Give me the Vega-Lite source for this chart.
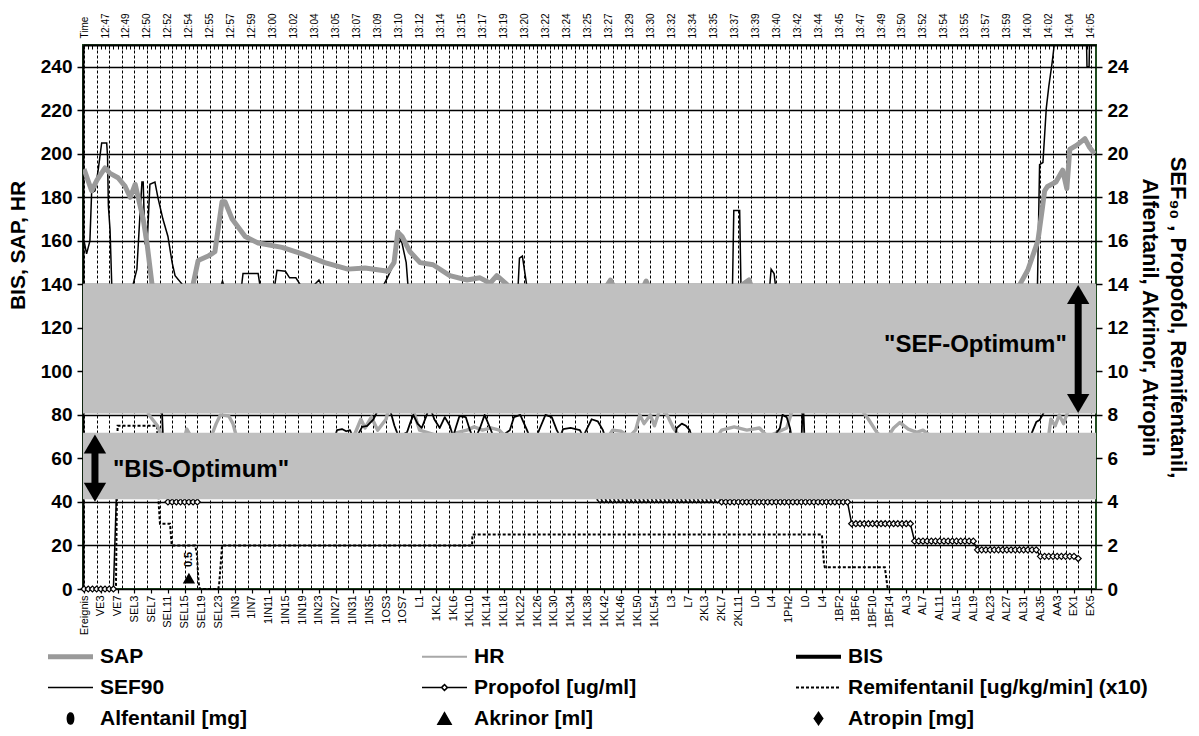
{
"$schema": "https://vega.github.io/schema/vega-lite/v6.json",
"width": 1013, "height": 544,
"autosize": {"type": "none"},
"padding": {"left": 83, "top": 45, "right": 103, "bottom": 147},
"background": "white",
"config": {
  "view": {"stroke": "#1e4a1e", "strokeWidth": 2},
  "font": "Liberation Sans",
  "axis": {"labelFont": "Liberation Sans", "titleFont": "Liberation Sans", "labelColor": "black", "titleColor": "black", "domainColor": "black", "tickColor": "black"},
  "text": {"font": "Liberation Sans"}
},
"datasets": {
  "lines": [
    {"s":"SAP","i":0,"v":193},{"s":"SAP","i":1.8,"v":183},{"s":"SAP","i":3.1,"v":188},{"s":"SAP","i":5,"v":193.5},{"s":"SAP","i":6.2,"v":191},{"s":"SAP","i":8.1,"v":189},{"s":"SAP","i":9.8,"v":185},{"s":"SAP","i":11,"v":180},{"s":"SAP","i":12.2,"v":186},{"s":"SAP","i":12.9,"v":180},{"s":"SAP","i":14.1,"v":170},{"s":"SAP","i":15,"v":159},{"s":"SAP","i":16.2,"v":140},{"s":"SAP","i":17.5,"v":125},{"s":"SAP","i":19.5,"v":108},{"s":"SAP","i":22,"v":100},{"s":"SAP","i":24,"v":112},{"s":"SAP","i":25.5,"v":132},{"s":"SAP","i":26,"v":140},{"s":"SAP","i":27.2,"v":151},{"s":"SAP","i":29.6,"v":153},{"s":"SAP","i":31.2,"v":155},{"s":"SAP","i":32.9,"v":178},{"s":"SAP","i":33.6,"v":178},{"s":"SAP","i":35.3,"v":170},{"s":"SAP","i":38.4,"v":162},{"s":"SAP","i":41.5,"v":159},{"s":"SAP","i":47.2,"v":157},{"s":"SAP","i":52,"v":154},{"s":"SAP","i":57.4,"v":150},{"s":"SAP","i":62.9,"v":147},{"s":"SAP","i":67,"v":147.5},{"s":"SAP","i":72.5,"v":146},{"s":"SAP","i":73.9,"v":150},{"s":"SAP","i":74.8,"v":164},{"s":"SAP","i":75.8,"v":162},{"s":"SAP","i":77.7,"v":155},{"s":"SAP","i":80.1,"v":150},{"s":"SAP","i":83.2,"v":149},{"s":"SAP","i":87.2,"v":144},{"s":"SAP","i":91.3,"v":142},{"s":"SAP","i":94.4,"v":143},{"s":"SAP","i":96.8,"v":140.5},{"s":"SAP","i":98.4,"v":144},{"s":"SAP","i":100.8,"v":140},{"s":"SAP","i":103,"v":130},{"s":"SAP","i":110,"v":125},{"s":"SAP","i":118,"v":132},{"s":"SAP","i":124.5,"v":139},{"s":"SAP","i":125.5,"v":142},{"s":"SAP","i":126.5,"v":138},{"s":"SAP","i":132,"v":133},{"s":"SAP","i":134,"v":141.5},{"s":"SAP","i":135,"v":137},{"s":"SAP","i":145,"v":128},{"s":"SAP","i":152,"v":133},{"s":"SAP","i":158.5,"v":142},{"s":"SAP","i":159.5,"v":137},{"s":"SAP","i":170,"v":120},{"s":"SAP","i":185,"v":110},{"s":"SAP","i":200,"v":115},{"s":"SAP","i":210,"v":122},{"s":"SAP","i":218,"v":132},{"s":"SAP","i":223.1,"v":140},{"s":"SAP","i":225,"v":146.6},{"s":"SAP","i":227.4,"v":160},{"s":"SAP","i":228.5,"v":175.5},{"s":"SAP","i":229,"v":183},{"s":"SAP","i":229.7,"v":185},{"s":"SAP","i":231.7,"v":187},{"s":"SAP","i":233.3,"v":192.5},{"s":"SAP","i":234.3,"v":184},{"s":"SAP","i":235,"v":202},{"s":"SAP","i":236.7,"v":204},{"s":"SAP","i":238.6,"v":207},{"s":"SAP","i":239.7,"v":203},{"s":"SAP","i":240.9,"v":200},
    {"s":"HR","i":0,"v":100},{"s":"HR","i":10,"v":95},{"s":"HR","i":14.5,"v":85},{"s":"HR","i":15.5,"v":80},{"s":"HR","i":17.5,"v":75},{"s":"HR","i":19,"v":68},{"s":"HR","i":24,"v":70},{"s":"HR","i":24.5,"v":73.5},{"s":"HR","i":25.5,"v":70},{"s":"HR","i":30.5,"v":71},{"s":"HR","i":31.5,"v":76},{"s":"HR","i":32.5,"v":80},{"s":"HR","i":34.5,"v":79.5},{"s":"HR","i":35.5,"v":76},{"s":"HR","i":36.2,"v":71},{"s":"HR","i":45,"v":65},{"s":"HR","i":64.5,"v":71},{"s":"HR","i":66,"v":78},{"s":"HR","i":67,"v":74},{"s":"HR","i":68.5,"v":79},{"s":"HR","i":70,"v":73},{"s":"HR","i":72,"v":78},{"s":"HR","i":73.5,"v":90},{"s":"HR","i":77,"v":100},{"s":"HR","i":78.5,"v":82},{"s":"HR","i":80,"v":73},{"s":"HR","i":85,"v":70},{"s":"HR","i":91.3,"v":73},{"s":"HR","i":93,"v":74.5},{"s":"HR","i":95,"v":73},{"s":"HR","i":97,"v":74},{"s":"HR","i":99,"v":73},{"s":"HR","i":101,"v":69},{"s":"HR","i":125,"v":70},{"s":"HR","i":126,"v":73},{"s":"HR","i":128,"v":72.5},{"s":"HR","i":130,"v":70},{"s":"HR","i":131.5,"v":73},{"s":"HR","i":132.5,"v":80},{"s":"HR","i":133.5,"v":76},{"s":"HR","i":135,"v":80},{"s":"HR","i":136,"v":75},{"s":"HR","i":137.5,"v":84},{"s":"HR","i":139,"v":80},{"s":"HR","i":140.5,"v":74},{"s":"HR","i":142,"v":70},{"s":"HR","i":151,"v":70},{"s":"HR","i":152,"v":73},{"s":"HR","i":155,"v":74.5},{"s":"HR","i":158,"v":73},{"s":"HR","i":161,"v":74},{"s":"HR","i":163,"v":70},{"s":"HR","i":167.5,"v":74},{"s":"HR","i":168.5,"v":80},{"s":"HR","i":170,"v":90},{"s":"HR","i":185,"v":88},{"s":"HR","i":185.5,"v":82},{"s":"HR","i":187,"v":78},{"s":"HR","i":189,"v":72},{"s":"HR","i":191,"v":68},{"s":"HR","i":193,"v":74},{"s":"HR","i":194.5,"v":76.5},{"s":"HR","i":196.5,"v":73.5},{"s":"HR","i":198.5,"v":72},{"s":"HR","i":200,"v":73},{"s":"HR","i":202,"v":70},{"s":"HR","i":230,"v":71},{"s":"HR","i":230.5,"v":78},{"s":"HR","i":231.5,"v":75},{"s":"HR","i":232.5,"v":80},{"s":"HR","i":233.5,"v":76},{"s":"HR","i":235,"v":84},{"s":"HR","i":240,"v":95},
    {"s":"BIS","i":0,"v":95},{"s":"BIS","i":8,"v":93},{"s":"BIS","i":14,"v":90},{"s":"BIS","i":18.5,"v":86},{"s":"BIS","i":19,"v":60},{"s":"BIS","i":25,"v":55},{"s":"BIS","i":35,"v":50},{"s":"BIS","i":45,"v":52},{"s":"BIS","i":55,"v":58},{"s":"BIS","i":59.5,"v":68},{"s":"BIS","i":60.3,"v":73},{"s":"BIS","i":61.5,"v":73.5},{"s":"BIS","i":62.5,"v":72.5},{"s":"BIS","i":63.4,"v":73},{"s":"BIS","i":64.5,"v":68},{"s":"BIS","i":66.3,"v":74.5},{"s":"BIS","i":67.5,"v":75},{"s":"BIS","i":69,"v":78},{"s":"BIS","i":70,"v":82},{"s":"BIS","i":71.5,"v":88},{"s":"BIS","i":73,"v":82},{"s":"BIS","i":74,"v":75},{"s":"BIS","i":75,"v":70},{"s":"BIS","i":77,"v":72},{"s":"BIS","i":77.7,"v":76},{"s":"BIS","i":78.5,"v":80},{"s":"BIS","i":79.5,"v":76},{"s":"BIS","i":80.5,"v":74},{"s":"BIS","i":81.5,"v":79},{"s":"BIS","i":82.4,"v":84},{"s":"BIS","i":83.5,"v":78},{"s":"BIS","i":84.8,"v":74},{"s":"BIS","i":86,"v":79},{"s":"BIS","i":87.2,"v":75},{"s":"BIS","i":88,"v":70},{"s":"BIS","i":88.6,"v":74},{"s":"BIS","i":89.5,"v":79.5},{"s":"BIS","i":91,"v":79},{"s":"BIS","i":92,"v":73},{"s":"BIS","i":93,"v":68},{"s":"BIS","i":94.4,"v":74},{"s":"BIS","i":95.5,"v":80},{"s":"BIS","i":96.8,"v":74},{"s":"BIS","i":98,"v":68},{"s":"BIS","i":101.5,"v":73},{"s":"BIS","i":102.5,"v":79},{"s":"BIS","i":104,"v":80},{"s":"BIS","i":105.6,"v":73},{"s":"BIS","i":107,"v":66},{"s":"BIS","i":108.7,"v":74},{"s":"BIS","i":110,"v":80},{"s":"BIS","i":111.5,"v":79},{"s":"BIS","i":112.7,"v":73},{"s":"BIS","i":113.5,"v":70},{"s":"BIS","i":114.2,"v":73.5},{"s":"BIS","i":116,"v":74},{"s":"BIS","i":118.2,"v":73},{"s":"BIS","i":119,"v":70},{"s":"BIS","i":120,"v":74},{"s":"BIS","i":121,"v":78},{"s":"BIS","i":122.5,"v":77},{"s":"BIS","i":123.7,"v":73},{"s":"BIS","i":125,"v":65},{"s":"BIS","i":140,"v":60},{"s":"BIS","i":141.3,"v":74},{"s":"BIS","i":142.5,"v":76},{"s":"BIS","i":143.5,"v":75},{"s":"BIS","i":144.4,"v":73},{"s":"BIS","i":146,"v":62},{"s":"BIS","i":160,"v":58},{"s":"BIS","i":165.9,"v":74},{"s":"BIS","i":166.5,"v":80},{"s":"BIS","i":167.5,"v":79},{"s":"BIS","i":168.3,"v":74},{"s":"BIS","i":169,"v":66},{"s":"BIS","i":171,"v":66},{"s":"BIS","i":171.4,"v":88},{"s":"BIS","i":171.8,"v":66},{"s":"BIS","i":190,"v":60},{"s":"BIS","i":210,"v":58},{"s":"BIS","i":224,"v":62},{"s":"BIS","i":226,"v":72},{"s":"BIS","i":227,"v":76.7},{"s":"BIS","i":227.8,"v":77.7},{"s":"BIS","i":228.5,"v":80},{"s":"BIS","i":229.6,"v":84},{"s":"BIS","i":232,"v":88},{"s":"BIS","i":240,"v":90}
  ],
  "rlines": [
    {"s":"SEF90","i":0,"v":16.0},{"s":"SEF90","i":0.6,"v":15.4},{"s":"SEF90","i":1.4,"v":16.0},{"s":"SEF90","i":1.8,"v":18.2},{"s":"SEF90","i":2.6,"v":18.3},{"s":"SEF90","i":3.4,"v":19.3},{"s":"SEF90","i":3.8,"v":19.9},{"s":"SEF90","i":4.2,"v":20.5},{"s":"SEF90","i":5.4,"v":20.5},{"s":"SEF90","i":5.6,"v":19.9},{"s":"SEF90","i":5.8,"v":17.6},{"s":"SEF90","i":6.2,"v":16.5},{"s":"SEF90","i":6.6,"v":14.0},{"s":"SEF90","i":8,"v":12},{"s":"SEF90","i":10,"v":10.5},{"s":"SEF90","i":11.2,"v":12.5},{"s":"SEF90","i":11.7,"v":14.0},{"s":"SEF90","i":12.6,"v":14.7},{"s":"SEF90","i":13.3,"v":17.1},{"s":"SEF90","i":13.8,"v":18.7},{"s":"SEF90","i":14.1,"v":18.7},{"s":"SEF90","i":14.5,"v":15.9},{"s":"SEF90","i":15,"v":15.7},{"s":"SEF90","i":15.7,"v":18.6},{"s":"SEF90","i":16.9,"v":18.7},{"s":"SEF90","i":17.6,"v":18.0},{"s":"SEF90","i":18.8,"v":17.0},{"s":"SEF90","i":20,"v":16.2},{"s":"SEF90","i":21,"v":15.0},{"s":"SEF90","i":21.7,"v":14.4},{"s":"SEF90","i":23.4,"v":14.0},{"s":"SEF90","i":26,"v":12},{"s":"SEF90","i":31.5,"v":13.5},{"s":"SEF90","i":32.6,"v":13.9},{"s":"SEF90","i":33,"v":14.15},{"s":"SEF90","i":33.4,"v":13.9},{"s":"SEF90","i":36,"v":13.5},{"s":"SEF90","i":37.6,"v":14.0},{"s":"SEF90","i":37.9,"v":14.5},{"s":"SEF90","i":41.5,"v":14.5},{"s":"SEF90","i":41.9,"v":14.0},{"s":"SEF90","i":43,"v":13.5},{"s":"SEF90","i":45.5,"v":14.0},{"s":"SEF90","i":46,"v":14.65},{"s":"SEF90","i":48,"v":14.6},{"s":"SEF90","i":49,"v":14.3},{"s":"SEF90","i":50.5,"v":14.3},{"s":"SEF90","i":51.5,"v":14.0},{"s":"SEF90","i":53,"v":13.6},{"s":"SEF90","i":56,"v":14.2},{"s":"SEF90","i":57,"v":13.8},{"s":"SEF90","i":63,"v":12.5},{"s":"SEF90","i":68,"v":13.2},{"s":"SEF90","i":71.5,"v":14.0},{"s":"SEF90","i":72.3,"v":14.3},{"s":"SEF90","i":73.5,"v":14.8},{"s":"SEF90","i":74.8,"v":16.3},{"s":"SEF90","i":75.8,"v":15.9},{"s":"SEF90","i":76.8,"v":15.0},{"s":"SEF90","i":77.2,"v":14.0},{"s":"SEF90","i":80,"v":11},{"s":"SEF90","i":90,"v":10},{"s":"SEF90","i":100,"v":12},{"s":"SEF90","i":103.5,"v":14.0},{"s":"SEF90","i":103.8,"v":15.2},{"s":"SEF90","i":104.5,"v":15.3},{"s":"SEF90","i":105.5,"v":14.0},{"s":"SEF90","i":110,"v":12},{"s":"SEF90","i":130,"v":11},{"s":"SEF90","i":150,"v":12.5},{"s":"SEF90","i":154.6,"v":14.0},{"s":"SEF90","i":154.9,"v":17.4},{"s":"SEF90","i":156.3,"v":17.4},{"s":"SEF90","i":156.6,"v":14.0},{"s":"SEF90","i":160,"v":12.5},{"s":"SEF90","i":163.5,"v":14.0},{"s":"SEF90","i":163.8,"v":14.7},{"s":"SEF90","i":164.5,"v":14.5},{"s":"SEF90","i":164.8,"v":14.0},{"s":"SEF90","i":170,"v":12},{"s":"SEF90","i":190,"v":10},{"s":"SEF90","i":210,"v":9.5},{"s":"SEF90","i":223,"v":10},{"s":"SEF90","i":226.3,"v":13},{"s":"SEF90","i":227.3,"v":14.0},{"s":"SEF90","i":227.8,"v":19.5},{"s":"SEF90","i":228.6,"v":19.6},{"s":"SEF90","i":229.4,"v":22.1},{"s":"SEF90","i":230,"v":23.1},{"s":"SEF90","i":230.8,"v":24.2},{"s":"SEF90","i":231.6,"v":25.5},{"s":"SEF90","i":238.9,"v":26},{"s":"SEF90","i":239.1,"v":24.0},{"s":"SEF90","i":239.6,"v":24.0},{"s":"SEF90","i":239.8,"v":26},{"s":"SEF90","i":240,"v":26},
    {"s":"Remi","i":0,"v":0},{"s":"Remi","i":7.6,"v":0},{"s":"Remi","i":8.0,"v":7.5},{"s":"Remi","i":17.4,"v":7.5},{"s":"Remi","i":17.8,"v":3.9},{"s":"Remi","i":18.0,"v":3.3},{"s":"Remi","i":18.1,"v":3.0},{"s":"Remi","i":20.5,"v":3.0},{"s":"Remi","i":20.9,"v":2.0},{"s":"Remi","i":26.5,"v":2.0},{"s":"Remi","i":26.9,"v":1.6},{"s":"Remi","i":27.3,"v":0.3},{"s":"Remi","i":27.6,"v":0},{"s":"Remi","i":32,"v":0},{"s":"Remi","i":32.2,"v":0.2},{"s":"Remi","i":32.6,"v":1.2},{"s":"Remi","i":32.9,"v":2.0},{"s":"Remi","i":92.5,"v":2.0},{"s":"Remi","i":92.6,"v":2.5},{"s":"Remi","i":175.9,"v":2.5},{"s":"Remi","i":176.2,"v":1.7},{"s":"Remi","i":176.4,"v":1.2},{"s":"Remi","i":176.6,"v":1.0},{"s":"Remi","i":190.9,"v":1.0},{"s":"Remi","i":191.6,"v":0}
  ],
  "prop": [
    {"i":0,"v":0},{"i":1,"v":0},{"i":2,"v":0},{"i":3,"v":0},{"i":4,"v":0},{"i":5,"v":0},{"i":6,"v":0},{"i":7,"v":0},
    {"i":8,"v":6},{"i":9,"v":6},{"i":10,"v":6},{"i":11,"v":6},{"i":12,"v":6},{"i":13,"v":6},{"i":14,"v":6},{"i":15,"v":6},{"i":16,"v":6},{"i":17,"v":6},{"i":18,"v":6},{"i":19,"v":6},
    {"i":20,"v":4},{"i":21,"v":4},{"i":22,"v":4},{"i":23,"v":4},{"i":24,"v":4},{"i":25,"v":4},{"i":26,"v":4},{"i":27,"v":4},
    {"i":28,"v":5},{"i":29,"v":5},{"i":30,"v":5},{"i":31,"v":5},{"i":32,"v":5},{"i":33,"v":5},{"i":34,"v":5},{"i":35,"v":5},{"i":36,"v":5},{"i":37,"v":5},{"i":38,"v":5},{"i":39,"v":5},{"i":40,"v":5},{"i":41,"v":5},{"i":42,"v":5},{"i":43,"v":5},{"i":44,"v":5},{"i":45,"v":5},{"i":46,"v":5},{"i":47,"v":5},{"i":48,"v":5},{"i":49,"v":5},{"i":50,"v":5},{"i":51,"v":5},{"i":52,"v":5},{"i":53,"v":5},{"i":54,"v":5},{"i":55,"v":5},{"i":56,"v":5},{"i":57,"v":5},{"i":58,"v":5},{"i":59,"v":5},{"i":60,"v":5},{"i":61,"v":5},{"i":62,"v":5},{"i":63,"v":5},{"i":64,"v":5},{"i":65,"v":5},{"i":66,"v":5},{"i":67,"v":5},{"i":68,"v":5},{"i":69,"v":5},{"i":70,"v":5},{"i":71,"v":5},{"i":72,"v":5},{"i":73,"v":5},{"i":74,"v":5},{"i":75,"v":5},{"i":76,"v":5},{"i":77,"v":5},{"i":78,"v":5},{"i":79,"v":5},{"i":80,"v":5},{"i":81,"v":5},{"i":82,"v":5},{"i":83,"v":5},{"i":84,"v":5},{"i":85,"v":5},{"i":86,"v":5},{"i":87,"v":5},{"i":88,"v":5},{"i":89,"v":5},{"i":90,"v":5},{"i":91,"v":5},{"i":92,"v":5},{"i":93,"v":5},{"i":94,"v":5},{"i":95,"v":5},{"i":96,"v":5},{"i":97,"v":5},{"i":98,"v":5},{"i":99,"v":5},{"i":100,"v":5},{"i":101,"v":5},{"i":102,"v":5},{"i":103,"v":5},{"i":104,"v":5},{"i":105,"v":5},{"i":106,"v":5},{"i":107,"v":5},{"i":108,"v":5},{"i":109,"v":5},{"i":110,"v":5},{"i":111,"v":5},{"i":112,"v":5},{"i":113,"v":5},{"i":114,"v":5},{"i":115,"v":5},{"i":116,"v":5},{"i":117,"v":5},{"i":118,"v":5},{"i":119,"v":5},{"i":120,"v":5},{"i":121,"v":5},{"i":122,"v":5},
    {"i":123,"v":4.1},{"i":124,"v":4.1},{"i":125,"v":4.1},{"i":126,"v":4.1},{"i":127,"v":4.1},{"i":128,"v":4.1},{"i":129,"v":4.1},{"i":130,"v":4.1},{"i":131,"v":4.1},{"i":132,"v":4.1},{"i":133,"v":4.1},{"i":134,"v":4.1},{"i":135,"v":4.1},{"i":136,"v":4.1},{"i":137,"v":4.1},{"i":138,"v":4.1},{"i":139,"v":4.1},{"i":140,"v":4.1},{"i":141,"v":4.1},{"i":142,"v":4.1},{"i":143,"v":4.1},{"i":144,"v":4.1},{"i":145,"v":4.1},{"i":146,"v":4.1},{"i":147,"v":4.1},{"i":148,"v":4.1},{"i":149,"v":4.1},{"i":150,"v":4.1},{"i":151,"v":4.1},
    {"i":152,"v":4},{"i":153,"v":4},{"i":154,"v":4},{"i":155,"v":4},{"i":156,"v":4},{"i":157,"v":4},{"i":158,"v":4},{"i":159,"v":4},{"i":160,"v":4},{"i":161,"v":4},{"i":162,"v":4},{"i":163,"v":4},{"i":164,"v":4},{"i":165,"v":4},{"i":166,"v":4},{"i":167,"v":4},{"i":168,"v":4},{"i":169,"v":4},{"i":170,"v":4},{"i":171,"v":4},{"i":172,"v":4},{"i":173,"v":4},{"i":174,"v":4},{"i":175,"v":4},{"i":176,"v":4},{"i":177,"v":4},{"i":178,"v":4},{"i":179,"v":4},{"i":180,"v":4},{"i":181,"v":4},{"i":182,"v":4},
    {"i":183,"v":3},{"i":184,"v":3},{"i":185,"v":3},{"i":186,"v":3},{"i":187,"v":3},{"i":188,"v":3},{"i":189,"v":3},{"i":190,"v":3},{"i":191,"v":3},{"i":192,"v":3},{"i":193,"v":3},{"i":194,"v":3},{"i":195,"v":3},{"i":196,"v":3},{"i":197,"v":3},
    {"i":198,"v":2.2},{"i":199,"v":2.2},{"i":200,"v":2.2},{"i":201,"v":2.2},{"i":202,"v":2.2},{"i":203,"v":2.2},{"i":204,"v":2.2},{"i":205,"v":2.2},{"i":206,"v":2.2},{"i":207,"v":2.2},{"i":208,"v":2.2},{"i":209,"v":2.2},{"i":210,"v":2.2},{"i":211,"v":2.2},{"i":212,"v":2.2},
    {"i":213,"v":1.8},{"i":214,"v":1.8},{"i":215,"v":1.8},{"i":216,"v":1.8},{"i":217,"v":1.8},{"i":218,"v":1.8},{"i":219,"v":1.8},{"i":220,"v":1.8},{"i":221,"v":1.8},{"i":222,"v":1.8},{"i":223,"v":1.8},{"i":224,"v":1.8},{"i":225,"v":1.8},{"i":226,"v":1.8},{"i":227,"v":1.8},
    {"i":228,"v":1.5},{"i":229,"v":1.5},{"i":230,"v":1.5},{"i":231,"v":1.5},{"i":232,"v":1.5},{"i":233,"v":1.5},{"i":234,"v":1.5},{"i":235,"v":1.5},{"i":236,"v":1.5},{"i":237,"v":1.4}
  ],
  "events": [{"s":"Akrinor [ml]","i":25,"v":0.5,"lbl":"0.5"}],
  "bands": [{"name":"SEF-Optimum","lo":80.6,"hi":140.3},{"name":"BIS-Optimum","lo":41.2,"hi":71.8}],
  "notes": [{"t":"\"BIS-Optimum\"","i":6.9,"v":54.7},{"t":"\"SEF-Optimum\"","i":234.3,"v":112}],
  "arrows": [{"i":2.6,"hi":71,"lo":40.1},{"i":237,"hi":139.7,"lo":80.9}]
},
"resolve": {"scale": {"x": "independent", "y": "independent"}, "axis": {"x": "independent", "y": "independent"}},
"layer": [
  {
    "encoding": {
      "x": {"field": "i", "type": "quantitative", "scale": {"domain": [-0.25, 241.25], "nice": false, "zero": false},
        "axis": {"orient": "bottom", "values": [0,4,8,12,16,20,24,28,32,36,40,44,48,52,56,60,64,68,72,76,80,84,88,92,96,100,104,108,112,116,120,124,128,132,136,140,144,148,152,156,160,164,168,172,176,180,184,188,192,196,200,204,208,212,216,220,224,228,232,236,240],
          "labelExpr": "['Ereignis','VE3','VE7','SEL3','SEL7','SEL11','SEL15','SEL19','SEL23','1IN3','1IN7','1IN11','1IN15','1IN19','1IN23','1IN27','1IN31','1IN35','1OS3','1OS7','L1','1KL2','1KL6','1KL10','1KL14','1KL18','1KL22','1KL26','1KL30','1KL34','1KL38','1KL42','1KL46','1KL50','1KL54','L3','L7','2KL3','2KL7','2KL11','L0','L4','1PH2','L0','L4','1BF2','1BF6','1BF10','1BF14','AL3','AL7','AL11','AL15','AL19','AL23','AL27','AL31','AL35','AA3','EX1','EX5'][round(datum.value/4)]",
          "labelAngle": 270, "labelAlign": "right", "labelBaseline": "middle", "labelFontSize": 11, "labelPadding": 2, "labelOverlap": false, "labelFlush": false, "labelBound": false,
          "tickSize": 4, "tickWidth": 1.2, "domain": false, "grid": false, "title": null}},
      "y": {"field": "v", "type": "quantitative", "scale": {"domain": [0, 25], "nice": false, "zero": false},
        "axis": {"orient": "right", "values": [0,2,4,6,8,10,12,14,16,18,20,22,24], "grid": false, "domain": false, "tickSize": 6, "tickWidth": 1.5,
          "labelFontSize": 19, "labelFontWeight": "bold", "labelPadding": 5,
          "title": ["SEF₉₀ , Propofol, Remifentanil,", "Alfentanil, Akrinor, Atropin"], "titleFontSize": 22, "titleFontWeight": "bold",
          "titleAngle": 90, "titleX": 91, "titleY": 272, "titleAlign": "center", "titleBaseline": "top", "titleLineHeight": 28}}
    },
    "layer": [
      {"data": {"name": "rlines"}, "transform": [{"filter": "datum.s === 'SEF90'"}],
       "mark": {"type": "line", "stroke": "black", "strokeWidth": 1.5, "clip": true}},
      {"data": {"name": "rlines"}, "transform": [{"filter": "datum.s === 'Remi'"}],
       "mark": {"type": "line", "stroke": "black", "strokeWidth": 2, "strokeDash": [3, 2], "clip": true}},
      {"data": {"name": "prop"},
       "mark": {"type": "line", "stroke": "black", "strokeWidth": 1.5, "clip": true}},
      {"data": {"name": "prop"},
       "mark": {"type": "point", "shape": "diamond", "size": 36, "filled": true, "fill": "white", "stroke": "black", "strokeWidth": 1.2, "opacity": 1}},
      {"data": {"name": "events"},
       "mark": {"type": "point", "shape": "triangle-up", "size": 150, "filled": true, "fill": "black", "strokeWidth": 0, "opacity": 1}},
      {"data": {"name": "events"},
       "mark": {"type": "text", "angle": 270, "align": "left", "baseline": "middle", "dx": 11, "fontSize": 11, "fontWeight": "bold", "color": "black"},
       "encoding": {"text": {"field": "lbl"}}}
    ]
  },
  {
    "layer": [
      {"data": {"name": "lines"},
       "mark": {"type": "line", "strokeJoin": "round", "clip": true},
       "encoding": {
         "x": {"field": "i", "type": "quantitative", "scale": {"domain": [-0.25, 241.25], "nice": false, "zero": false},
           "axis": {"orient": "bottom", "values": [0,3,6,9,12,15,18,21,24,27,30,33,36,39,42,45,48,51,54,57,60,63,66,69,72,75,78,81,84,87,90,93,96,99,102,105,108,111,114,117,120,123,126,129,132,135,138,141,144,147,150,153,156,159,162,165,168,171,174,177,180,183,186,189,192,195,198,201,204,207,210,213,216,219,222,225,228,231,234,237,240],
             "grid": true, "gridDash": [3, 2], "gridColor": "black", "gridWidth": 1, "domain": false, "ticks": false, "labels": false, "title": null}},
         "y": {"field": "v", "type": "quantitative", "scale": {"domain": [0, 250], "nice": false, "zero": false},
           "axis": {"orient": "left", "values": [0,20,40,60,80,100,120,140,160,180,200,220,240], "grid": true, "gridColor": "black", "gridWidth": 1.6,
             "domainColor": "black", "domainWidth": 2, "tickSize": 6, "tickWidth": 1.5,
             "labelFontSize": 19, "labelFontWeight": "bold", "labelPadding": 5,
             "title": "BIS, SAP, HR", "titleFontSize": 21, "titleFontWeight": "bold", "titleAngle": 270, "titleX": -65, "titleY": 200, "titleAlign": "center", "titleBaseline": "middle"}},
         "color": {"field": "s", "type": "nominal",
           "scale": {"domain": ["SAP", "HR", "BIS", "SEF90", "Propofol [ug/ml]", "Remifentanil [ug/kg/min] (x10)", "Alfentanil [mg]", "Akrinor [ml]", "Atropin [mg]"],
                     "range": ["#9a9a9a", "#a8a8a8", "#000000", "#000000", "#000000", "#000000", "#000000", "#000000", "#000000"]},
           "legend": {"title": null, "orient": "none", "direction": "horizontal", "legendX": -35, "legendY": 601, "columns": 3, "gridAlign": "all", "columnPadding": 14, "rowPadding": 9,
             "symbolSize": 2025, "symbolType": "stroke", "symbolOffset": 12,
             "labelFont": "Liberation Sans", "labelFontSize": 21, "labelFontWeight": "bold", "labelColor": "black", "labelOffset": 19, "labelLimit": 500, "padding": 0,
             "encode": {"symbols": {"update": {
               "shape": {"signal": "datum.value === 'Propofol [ug/ml]' ? 'M-1,0H-0.13M0.13,0H1M0,-0.13L0.13,0L0,0.13L-0.13,0Z' : datum.value === 'Alfentanil [mg]' ? 'M0,-1C0.75,-1,0.75,1,0,1C-0.75,1,-0.75,-1,0,-1Z' : datum.value === 'Akrinor [ml]' ? 'triangle-up' : datum.value === 'Atropin [mg]' ? 'M0,-1L0.7,0L0,1L-0.7,0Z' : 'stroke'"},
               "size": {"signal": "datum.value === 'Alfentanil [mg]' ? 121 : datum.value === 'Akrinor [ml]' ? 169 : datum.value === 'Atropin [mg]' ? 144 : 2025"},
               "fill": {"signal": "datum.value === 'Propofol [ug/ml]' ? 'white' : (datum.value === 'Alfentanil [mg]' || datum.value === 'Akrinor [ml]' || datum.value === 'Atropin [mg]') ? 'black' : 'transparent'"},
               "stroke": {"signal": "datum.value === 'SAP' ? '#9a9a9a' : datum.value === 'HR' ? '#a8a8a8' : (datum.value === 'Alfentanil [mg]' || datum.value === 'Akrinor [ml]' || datum.value === 'Atropin [mg]') ? 'transparent' : 'black'"},
               "strokeWidth": {"signal": "datum.value === 'SAP' ? 5 : datum.value === 'BIS' ? 4 : datum.value === 'HR' ? 2 : datum.value === 'Remifentanil [ug/kg/min] (x10)' ? 2 : 1.6"},
               "strokeDash": {"signal": "datum.value === 'Remifentanil [ug/kg/min] (x10)' ? [3, 2] : [1, 0]"},
               "opacity": {"value": 1}
             }}}}},
         "strokeWidth": {"field": "s", "type": "ordinal", "scale": {"domain": ["SAP", "HR", "BIS"], "range": [5, 1.8, 4]}, "legend": null}
       }},
      {"data": {"name": "bands"},
       "mark": {"type": "rect", "fill": "#c0c0c0"},
       "encoding": {
         "y": {"field": "hi", "type": "quantitative"},
         "y2": {"field": "lo"}
       }}
    ]
  },
  {
    "encoding": {
      "x": {"field": "i", "type": "quantitative", "scale": {"domain": [-0.25, 241.25], "nice": false, "zero": false},
        "axis": {"orient": "top", "values": [0,1,2,3,4,5,6,7,8,9,10,11,12,13,14,15,16,17,18,19,20,21,22,23,24,25,26,27,28,29,30,31,32,33,34,35,36,37,38,39,40,41,42,43,44,45,46,47,48,49,50,51,52,53,54,55,56,57,58,59,60,61,62,63,64,65,66,67,68,69,70,71,72,73,74,75,76,77,78,79,80,81,82,83,84,85,86,87,88,89,90,91,92,93,94,95,96,97,98,99,100,101,102,103,104,105,106,107,108,109,110,111,112,113,114,115,116,117,118,119,120,121,122,123,124,125,126,127,128,129,130,131,132,133,134,135,136,137,138,139,140,141,142,143,144,145,146,147,148,149,150,151,152,153,154,155,156,157,158,159,160,161,162,163,164,165,166,167,168,169,170,171,172,173,174,175,176,177,178,179,180,181,182,183,184,185,186,187,188,189,190,191,192,193,194,195,196,197,198,199,200,201,202,203,204,205,206,207,208,209,210,211,212,213,214,215,216,217,218,219,220,221,222,223,224,225,226,227,228,229,230,231,232,233,234,235,236,237,238,239,240],
          "labelExpr": "datum.value % 5 === 0 ? ['Time','12:47','12:49','12:50','12:52','12:54','12:55','12:57','12:59','13:00','13:02','13:04','13:05','13:07','13:09','13:10','13:12','13:14','13:15','13:17','13:19','13:20','13:22','13:24','13:25','13:27','13:29','13:30','13:32','13:34','13:35','13:37','13:39','13:40','13:42','13:44','13:45','13:47','13:49','13:50','13:52','13:54','13:55','13:57','13:59','14:00','14:02','14:04','14:05'][datum.value / 5] : ''",
          "labelAngle": 270, "labelAlign": "left", "labelBaseline": "middle", "labelFontSize": 10, "labelPadding": 11, "labelOverlap": false, "labelFlush": false, "labelBound": false,
          "tickSize": -4, "tickWidth": 1, "domain": true, "domainColor": "black", "domainWidth": 2, "grid": false, "title": null}}
    },
    "layer": [
      {"data": {"name": "arrows"},
       "mark": {"type": "rule", "color": "black", "strokeWidth": 7, "yOffset": 12, "y2Offset": -12},
       "encoding": {
         "y": {"field": "hi", "type": "quantitative", "scale": {"domain": [0, 250], "nice": false, "zero": false}, "axis": null},
         "y2": {"field": "lo"}}},
      {"data": {"name": "arrows"},
       "mark": {"type": "point", "shape": "M0,0L1,1.7L-1,1.7Z", "size": 500, "filled": true, "fill": "black", "strokeWidth": 0, "opacity": 1},
       "encoding": {
         "y": {"field": "hi", "type": "quantitative", "scale": {"domain": [0, 250], "nice": false, "zero": false}, "axis": null}}},
      {"data": {"name": "arrows"},
       "mark": {"type": "point", "shape": "M0,0L1,-1.7L-1,-1.7Z", "size": 500, "filled": true, "fill": "black", "strokeWidth": 0, "opacity": 1},
       "encoding": {
         "y": {"field": "lo", "type": "quantitative", "scale": {"domain": [0, 250], "nice": false, "zero": false}, "axis": null}}},
      {"data": {"name": "notes"}, "transform": [{"filter": "datum.t === '\"BIS-Optimum\"'"}],
       "mark": {"type": "text", "align": "left", "baseline": "middle", "fontSize": 24, "fontWeight": "bold", "color": "black"},
       "encoding": {
         "y": {"field": "v", "type": "quantitative", "scale": {"domain": [0, 250], "nice": false, "zero": false}, "axis": null},
         "text": {"field": "t"}}},
      {"data": {"name": "notes"}, "transform": [{"filter": "datum.t === '\"SEF-Optimum\"'"}],
       "mark": {"type": "text", "align": "right", "baseline": "middle", "fontSize": 24, "fontWeight": "bold", "color": "black"},
       "encoding": {
         "y": {"field": "v", "type": "quantitative", "scale": {"domain": [0, 250], "nice": false, "zero": false}, "axis": null},
         "text": {"field": "t"}}}
    ]
  }
]
}
